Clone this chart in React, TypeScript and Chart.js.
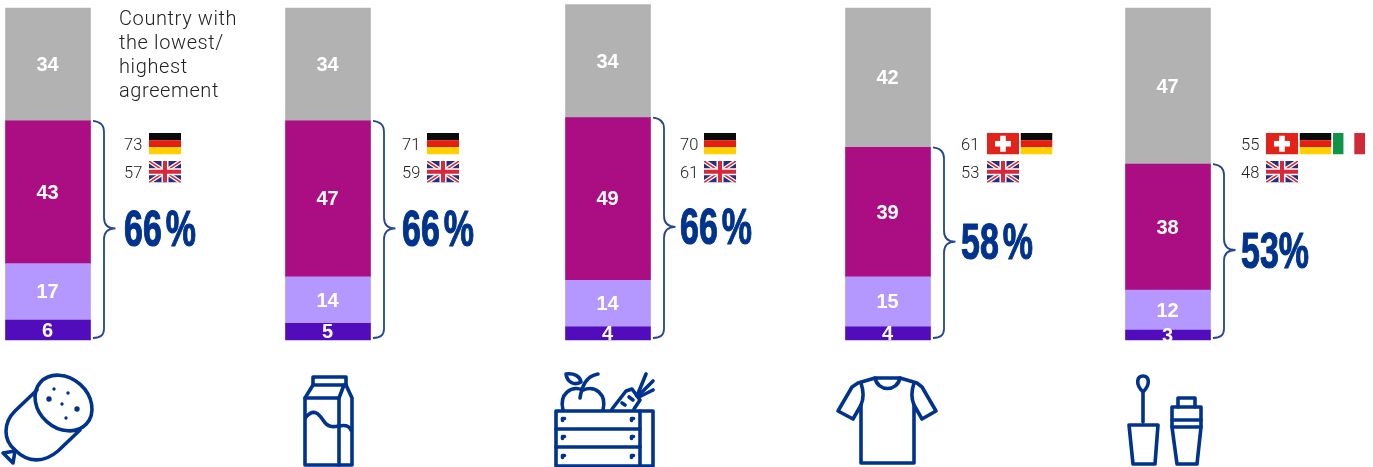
import React, { useEffect, useRef } from "react";
import { Chart, registerables } from "chart.js";

Chart.register(...registerables);

const categories = ["Meat and sausage", "Dairy products", "Fruit and vegetables", "Clothing", "Cosmetics"];
const darkPurple = [6, 5, 4, 4, 3];
const lilac = [17, 14, 14, 15, 12];
const magenta = [43, 47, 49, 39, 38];
const grey = [34, 34, 34, 42, 47];
const totals = ["66 %", "66 %", "66 %", "58 %", "53%"];
const highest = [73, 71, 70, 61, 55];
const lowest = [57, 59, 61, 53, 48];
const highestFlags = [["DE"], ["DE"], ["DE"], ["CH", "DE"], ["CH", "DE", "IT"]];
const lowestFlags = [["UK"], ["UK"], ["UK"], ["UK"], ["UK"]];
const noteLines = ["Country with", "the lowest/", "highest", "agreement"];

const BLUE = "#00338d";
const TEXT = "#222222";
const SANS = '"Liberation Sans", Arial, sans-serif';
const LIGHT = 'Roboto, "Liberation Sans", sans-serif';

function drawFlag(ctx: CanvasRenderingContext2D, code: string, x: number, y: number) {
  const w = 32, h = 21.5;
  ctx.save();
  ctx.beginPath();
  ctx.rect(x, y, w, h);
  ctx.clip();
  if (code === "DE") {
    ctx.fillStyle = "#0a0a0a"; ctx.fillRect(x, y, w, h / 3);
    ctx.fillStyle = "#e3200f"; ctx.fillRect(x, y + h / 3, w, h / 3);
    ctx.fillStyle = "#ffd000"; ctx.fillRect(x, y + (2 * h) / 3, w, h / 3);
  } else if (code === "CH") {
    ctx.fillStyle = "#e2231a"; ctx.fillRect(x, y, w, h);
    ctx.fillStyle = "#ffffff";
    ctx.fillRect(x + w / 2 - 8, y + h / 2 - 2.8, 16, 5.6);
    ctx.fillRect(x + w / 2 - 2.8, y + h / 2 - 8, 5.6, 16);
  } else if (code === "IT") {
    ctx.fillStyle = "#0f9448"; ctx.fillRect(x, y, w / 3, h);
    ctx.fillStyle = "#ffffff"; ctx.fillRect(x + w / 3, y, w / 3, h);
    ctx.fillStyle = "#cf2a36"; ctx.fillRect(x + (2 * w) / 3, y, w / 3, h);
  } else {
    ctx.fillStyle = "#28307a"; ctx.fillRect(x, y, w, h);
    const cross = (color: string, lw: number) => {
      ctx.strokeStyle = color; ctx.lineWidth = lw;
      ctx.beginPath();
      ctx.moveTo(x, y); ctx.lineTo(x + w, y + h);
      ctx.moveTo(x + w, y); ctx.lineTo(x, y + h);
      ctx.stroke();
    };
    cross("#ffffff", 4.2);
    cross("#d8283c", 1.5);
    ctx.fillStyle = "#ffffff";
    ctx.fillRect(x, y + h / 2 - 3.5, w, 7);
    ctx.fillRect(x + w / 2 - 3.5, y, 7, h);
    ctx.fillStyle = "#d8283c";
    ctx.fillRect(x, y + h / 2 - 2, w, 4);
    ctx.fillRect(x + w / 2 - 2, y, 4, h);
  }
  ctx.restore();
}

function poly(ctx: CanvasRenderingContext2D, pts: number[][], close = false) {
  ctx.beginPath();
  pts.forEach((p, i) => (i ? ctx.lineTo(p[0], p[1]) : ctx.moveTo(p[0], p[1])));
  if (close) ctx.closePath();
  ctx.stroke();
}

function dot(ctx: CanvasRenderingContext2D, x: number, y: number, r: number) {
  ctx.beginPath();
  ctx.arc(x, y, r, 0, Math.PI * 2);
  ctx.fill();
}

function drawIcons(ctx: CanvasRenderingContext2D) {
  ctx.save();
  ctx.strokeStyle = BLUE;
  ctx.fillStyle = BLUE;
  ctx.lineWidth = 3.6;
  ctx.lineJoin = "round";
  ctx.lineCap = "round";

  // sausage
  ctx.beginPath();
  ctx.ellipse(63.5, 403, 31, 25, (42 * Math.PI) / 180, 0, Math.PI * 2);
  ctx.stroke();
  ctx.beginPath();
  ctx.moveTo(37, 390);
  ctx.lineTo(15, 411);
  ctx.bezierCurveTo(3, 423, 3, 440, 15, 450);
  ctx.bezierCurveTo(28, 463, 44, 463, 58, 451);
  ctx.lineTo(80, 430);
  ctx.stroke();
  poly(ctx, [[3, 453], [15, 451], [13, 463]], true);
  [[54, 389, 1.7], [68, 393, 1.7], [49, 399, 2.7], [62, 404, 1.7], [77, 409, 2.7], [66, 418, 1.7]].forEach((d) =>
    dot(ctx, d[0], d[1], d[2])
  );

  // milk carton
  poly(ctx, [[313, 377], [346, 377], [346, 385], [313, 385]], true);
  poly(ctx, [[313, 385], [305, 398], [305, 465], [352, 465], [352, 398], [346, 385]]);
  poly(ctx, [[305, 398], [339, 398], [344, 385]]);
  poly(ctx, [[339, 398], [339, 465]]);
  ctx.beginPath();
  ctx.moveTo(306, 417);
  ctx.bezierCurveTo(314, 408, 319, 414, 323, 420);
  ctx.bezierCurveTo(328, 428, 333, 427, 339, 426);
  ctx.bezierCurveTo(344, 425, 349, 425, 351, 430);
  ctx.stroke();

  // crate with apple and carrot
  poly(ctx, [[556, 411], [653, 411], [653, 466], [556, 466]], true);
  poly(ctx, [[640, 411], [640, 466]]);
  poly(ctx, [[556, 429], [640, 429]]);
  poly(ctx, [[556, 447], [640, 447]]);
  [419, 437, 456].forEach((y) => {
    [563, 632].forEach((x) => poly(ctx, [[x + 1.5, y - 0.5], [x - 0.5, y - 0.5], [x - 0.5, y + 1.5]]));
  });
  ctx.beginPath();
  ctx.moveTo(563, 410);
  ctx.bezierCurveTo(559, 394, 571, 385, 583, 390);
  ctx.bezierCurveTo(595, 385, 607, 394, 603, 410);
  ctx.stroke();
  ctx.beginPath();
  ctx.moveTo(580, 398);
  ctx.bezierCurveTo(582, 386, 586, 376, 598, 374);
  ctx.stroke();
  ctx.beginPath();
  ctx.moveTo(566, 374);
  ctx.bezierCurveTo(574, 373, 580, 376, 581, 382);
  ctx.bezierCurveTo(574, 386, 567, 382, 566, 374);
  ctx.stroke();
  poly(ctx, [[612, 409], [626, 391], [632, 389], [640, 400], [634, 409]]);
  poly(ctx, [[622, 403], [625, 405]]);
  poly(ctx, [[629, 397], [633, 400]]);
  poly(ctx, [[637, 396], [646, 374]]);
  poly(ctx, [[638, 396], [653, 381]]);
  poly(ctx, [[639, 397], [653, 390]]);

  // T-shirt
  ctx.beginPath();
  ctx.moveTo(875, 378);
  ctx.bezierCurveTo(878, 392, 897, 392, 900, 378);
  ctx.stroke();
  poly(ctx, [
    [875, 378], [900, 378], [917, 383], [922, 387], [936, 411], [922, 419], [914, 405],
    [914, 463], [861, 463], [861, 405], [853, 419], [838, 411], [852, 387], [858, 383],
  ], true);
  ctx.beginPath();
  ctx.moveTo(861, 383);
  ctx.bezierCurveTo(864, 392, 864, 398, 861, 405);
  ctx.moveTo(914, 383);
  ctx.bezierCurveTo(911, 392, 911, 398, 914, 405);
  ctx.stroke();

  // mascara and bottle
  ctx.beginPath();
  ctx.moveTo(1143, 392);
  ctx.bezierCurveTo(1135, 384, 1137, 376, 1143, 376);
  ctx.bezierCurveTo(1149, 376, 1151, 384, 1143, 392);
  ctx.lineTo(1143, 422);
  ctx.stroke();
  poly(ctx, [[1129, 425], [1158, 425], [1155, 464], [1133, 464]], true);
  poly(ctx, [[1178, 407], [1178, 398], [1195, 398], [1195, 407]]);
  poly(ctx, [[1172, 407], [1201, 407], [1201, 427], [1197, 464], [1177, 464], [1172, 427]], true);
  poly(ctx, [[1172, 420], [1201, 420]]);
  poly(ctx, [[1172, 427], [1201, 427]]);
  ctx.restore();
}

const annotations = {
  id: "annotations",
  afterDatasetsDraw(chart: any) {
    const ctx: CanvasRenderingContext2D = chart.ctx;
    const yScale = chart.scales.y;
    const metas = chart.getSortedVisibleDatasetMetas();
    const textOffsets = [118.5, 116.5, 114.5, 115.5, 115.5];
    const flagGap = [25, 25, 24, 26, 25];

    ctx.save();
    // values inside the segments
    ctx.fillStyle = "#ffffff";
    ctx.font = `bold 20px ${SANS}`;
    ctx.textAlign = "center";
    ctx.textBaseline = "middle";
    metas.forEach((meta: any, d: number) => {
      meta.data.forEach((bar: any, i: number) => {
        ctx.fillText(String(chart.data.datasets[d].data[i]), bar.x - 0.5, (bar.y + bar.base) / 2 + 1);
      });
    });

    // note
    ctx.fillStyle = TEXT;
    ctx.textAlign = "left";
    ctx.textBaseline = "alphabetic";
    ctx.font = `300 20px ${LIGHT}`;
    (ctx as any).letterSpacing = "0.6px";
    noteLines.forEach((line, i) => ctx.fillText(line, 119, 25 + i * 24));
    (ctx as any).letterSpacing = "0px";

    categories.forEach((_, i) => {
      const bar = metas[0].data[i];
      const left = bar.x - 42.5;
      const right = bar.x + 42.5;
      const top = yScale.getPixelForValue(darkPurple[i] + lilac[i] + magenta[i]);
      const bottom = yScale.getPixelForValue(0);
      const mid = (top + bottom) / 2;

      // bracket
      const x0 = right + 2.5, x1 = right + 13.5, xt = right + 25, tip = mid - 2;
      ctx.strokeStyle = "#24468f";
      ctx.lineWidth = 1.8;
      ctx.beginPath();
      ctx.moveTo(x0, top);
      ctx.quadraticCurveTo(x1, top + 1, x1, top + 11);
      ctx.lineTo(x1, tip - 11);
      ctx.quadraticCurveTo(x1, tip, xt, tip);
      ctx.quadraticCurveTo(x1, tip, x1, tip + 11);
      ctx.lineTo(x1, bottom - 11);
      ctx.quadraticCurveTo(x1, bottom - 2, x0, bottom - 2);
      ctx.stroke();

      // lowest/highest values with flags
      const tx = left + textOffsets[i];
      ctx.fillStyle = TEXT;
      ctx.font = `300 16.5px ${LIGHT}`;
      ctx.textAlign = "left";
      ctx.textBaseline = "alphabetic";
      ctx.fillText(String(highest[i]), tx, 150);
      ctx.fillText(String(lowest[i]), tx, 178);
      highestFlags[i].forEach((code, k) => drawFlag(ctx, code, tx + flagGap[i] + k * 33.5, 133));
      lowestFlags[i].forEach((code, k) => drawFlag(ctx, code, tx + flagGap[i] + k * 33.5, 161));

      // total, narrowed to look condensed and thickened to keep its weight
      ctx.save();
      ctx.translate(tx, mid + 15.5);
      ctx.scale(0.68, 1);
      ctx.fillStyle = BLUE;
      ctx.strokeStyle = BLUE;
      ctx.lineWidth = 1.2;
      ctx.lineJoin = "round";
      ctx.font = `bold 50px ${SANS}`;
      (ctx as any).wordSpacing = "-8px";
      ctx.fillText(totals[i], 0, 0);
      ctx.strokeText(totals[i], 0, 0);
      (ctx as any).wordSpacing = "0px";
      ctx.restore();
    });
    ctx.restore();
    drawIcons(ctx);
  },
};

export default function App() {
  const ref = useRef<HTMLCanvasElement>(null);
  useEffect(() => {
    const chart = new Chart(ref.current as HTMLCanvasElement, {
      type: "bar",
      data: {
        labels: categories,
        datasets: [
          { label: "Segment 4", data: darkPurple, backgroundColor: "#510dbc", clip: false },
          { label: "Segment 3", data: lilac, backgroundColor: "#b497ff", clip: false },
          { label: "Segment 2", data: magenta, backgroundColor: "#ab0d82", clip: false },
          { label: "Segment 1", data: grey, backgroundColor: "#b2b2b2", clip: false },
        ] as any,
      },
      options: {
        responsive: false,
        animation: false,
        events: [],
        layout: { padding: { left: 48, right: 205, top: 0, bottom: 127 } },
        datasets: { bar: { barThickness: 85 } },
        plugins: { legend: { display: false }, tooltip: { enabled: false } },
        scales: {
          x: { display: false, stacked: true, offset: false },
          y: { display: false, stacked: true, min: 0, max: 102.41 },
        },
      },
      plugins: [annotations],
    });
    return () => chart.destroy();
  }, []);
  return (
    <canvas
      ref={ref}
      width={1373}
      height={467}
      style={{ position: "fixed", left: 0, top: 0, display: "block" }}
    />
  );
}
